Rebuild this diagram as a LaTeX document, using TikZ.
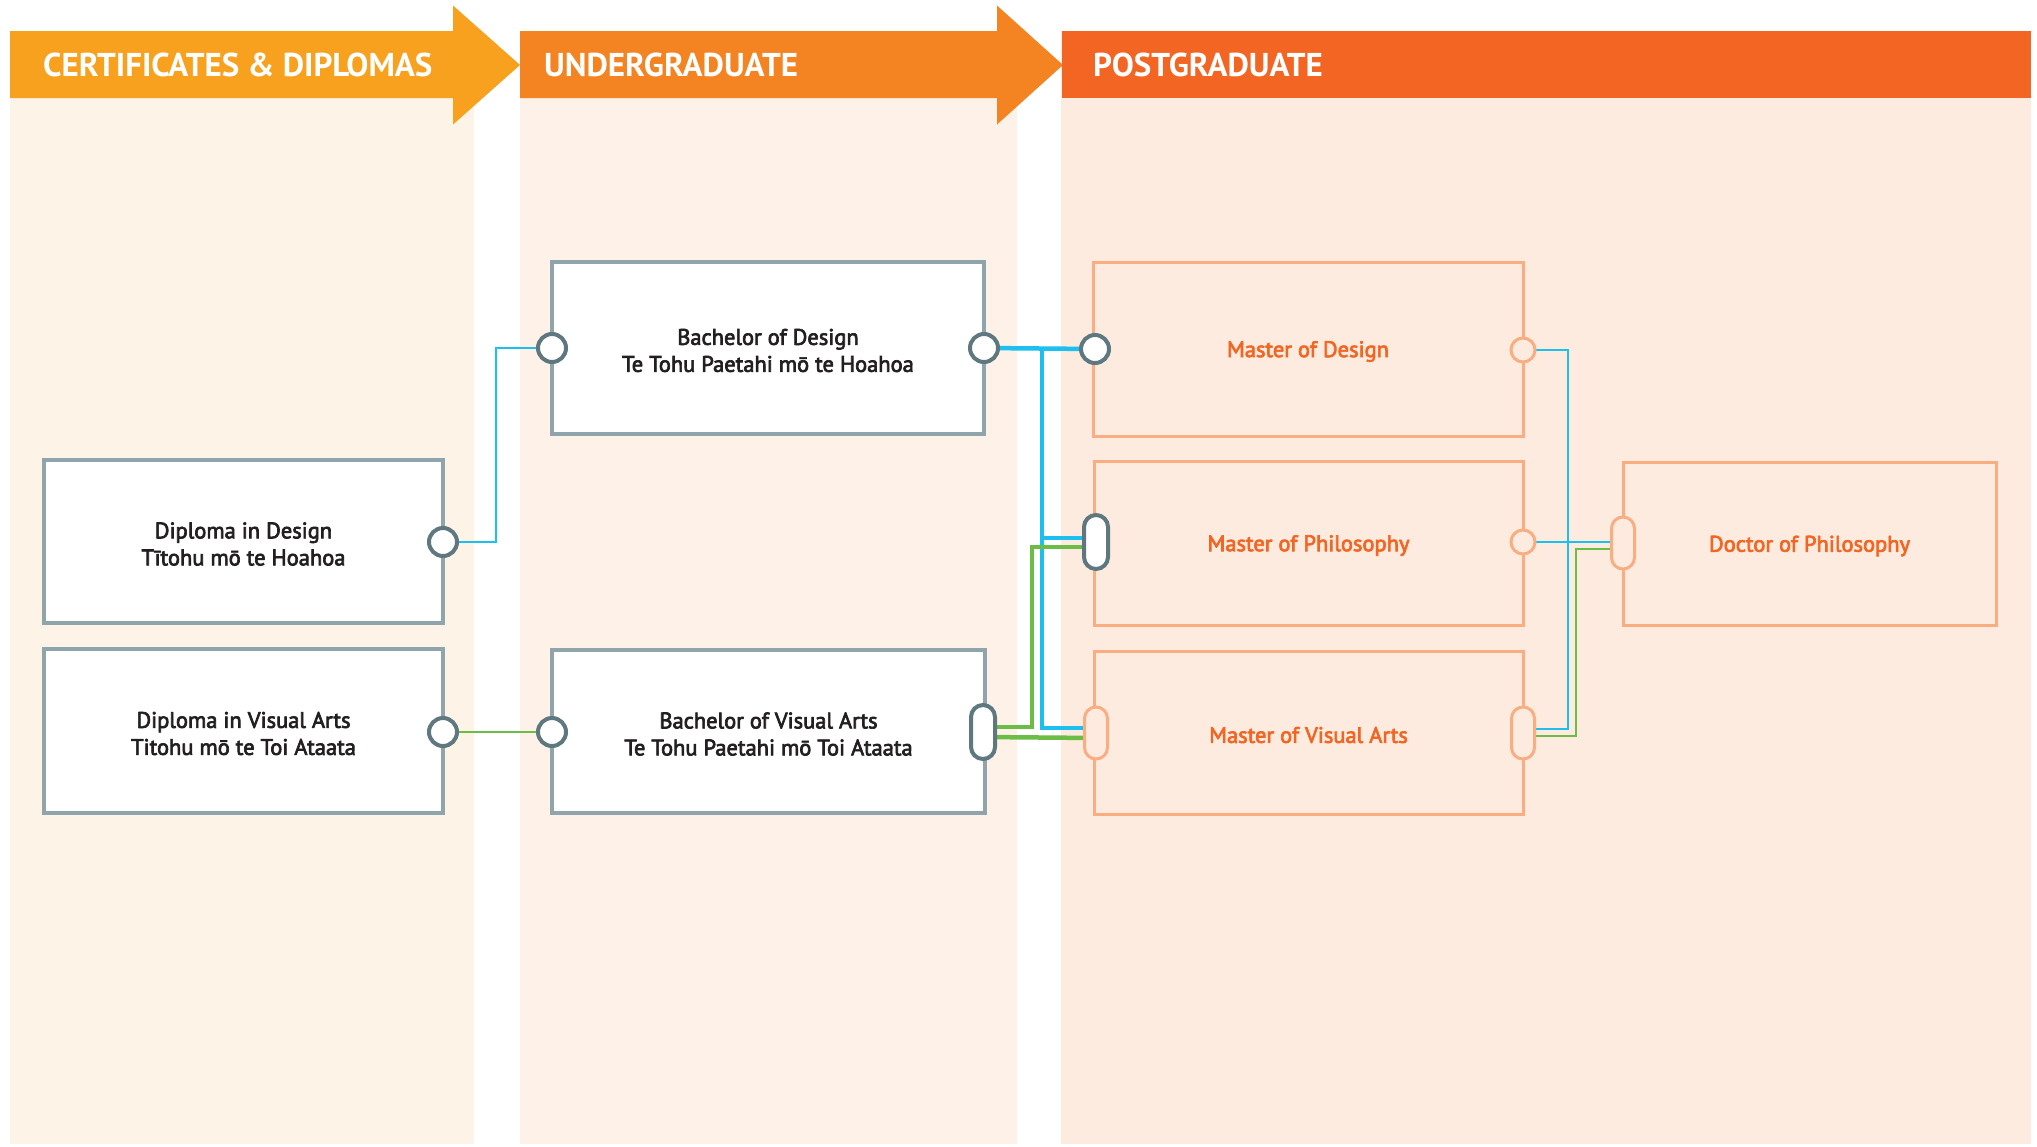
\documentclass[tikz,border=0pt]{standalone}
\usepackage{fontspec}
\setmainfont{PT Sans}
\newfontfamily\hdfont{PT Sans}
\newfontfamily\bxfont[FakeBold=3]{PT Sans}
\usetikzlibrary{calc}
\newcommand{\dnl}[1]{\raisebox{-2.5pt}[\height][\depth]{#1}}
\definecolor{hA}{HTML}{F7A11E}
\definecolor{hB}{HTML}{F48421}
\definecolor{hC}{HTML}{F26522}
\definecolor{bgA}{HTML}{FEF3E7}
\definecolor{bgB}{HTML}{FEF1E8}
\definecolor{bgC}{HTML}{FEEBE0}
\definecolor{gbord}{HTML}{8FA4AB}
\definecolor{gport}{HTML}{5F7880}
\definecolor{obord}{HTML}{F9AD81}
\definecolor{otext}{HTML}{F26522}
\definecolor{btext}{HTML}{231F20}
\definecolor{cblue}{HTML}{1DBFEF}
\definecolor{cgreen}{HTML}{6CBD45}
\tikzset{
  hdtext/.style={anchor=base west, inner sep=0pt, text=white, font=\hdfont\bfseries\fontsize{33}{33}\selectfont},
  gbox/.style={draw=gbord, line width=3.5pt, fill=white, inner sep=0pt, align=center, text=btext, font=\bxfont\fontsize{22.5}{27}\selectfont},
  obox/.style={draw=obord, line width=3pt, fill=bgC, inner sep=0pt, align=center, text=otext, font=\bxfont\fontsize{22.5}{27}\selectfont},
  gcirc/.style={circle, draw=gport, line width=4pt, fill=white, minimum size=28pt, inner sep=0pt},
  gpill/.style={rectangle, draw=gport, line width=4pt, fill=white, rounded corners=12pt, minimum width=24pt, minimum height=54pt, inner sep=0pt},
  ocirc/.style={circle, draw=obord, line width=3pt, fill=bgC, minimum size=24pt, inner sep=0pt},
  opill/.style={rectangle, draw=obord, line width=3pt, fill=bgC, rounded corners=11.5pt, minimum width=23pt, minimum height=52pt, inner sep=0pt},
  thinb/.style={draw=cblue, line width=2pt},
  thing/.style={draw=cgreen, line width=2pt},
  thickb/.style={draw=cblue, line width=4.5pt},
  thickg/.style={draw=cgreen, line width=4.5pt},
}
\begin{document}
\begin{tikzpicture}[x=1pt,y=-1pt]
\useasboundingbox (0,0) rectangle (2037,1146);
% column backgrounds
\fill[bgA] (10,31) rectangle (474,1144);
\fill[bgB] (520,31) rectangle (1017,1144);
\fill[bgC] (1061,31) rectangle (2031,1144);
% headers
\fill[hA] (10,31) -- (453,31) -- (453,5.5) -- (520,65) -- (453,124.5) -- (453,98) -- (10,98) -- cycle;
\fill[hB] (520,31) -- (997,31) -- (997,5.5) -- (1063,65) -- (997,124.5) -- (997,98) -- (520,98) -- cycle;
\fill[hC] (1062,31) rectangle (2031,98);
\node[hdtext] (h1) at (43,76) {CERTIFICATES \& DIPLOMAS};
\node[hdtext] (h2) at (544,76) {UNDERGRADUATE};
\node[hdtext] (h3) at (1093,76) {POSTGRADUATE};
% boxes
\node[gbox, minimum width=399pt, minimum height=163pt] (dipd) at (243.5,541.5) {\dnl{Diploma in Design}\\\dnl{Tītohu mō te Hoahoa}};
\node[gbox, minimum width=399pt, minimum height=164pt] (dipv) at (243.5,731) {\dnl{Diploma in Visual Arts}\\\dnl{Titohu mō te Toi Ataata}};
\node[gbox, minimum width=432pt, minimum height=172pt] (bd) at (768,348) {\dnl{Bachelor of Design}\\\dnl{Te Tohu Paetahi mō te Hoahoa}};
\node[gbox, minimum width=433pt, minimum height=163pt] (bva) at (768.5,731.5) {\dnl{Bachelor of Visual Arts}\\\dnl{Te Tohu Paetahi mō Toi Ataata}};
\node[obox, minimum width=430pt, minimum height=174pt] (md) at (1308,349) {\dnl{Master of Design}};
\node[obox, minimum width=429pt, minimum height=164pt] (mp) at (1308.5,543) {\dnl{Master of Philosophy}};
\node[obox, minimum width=429pt, minimum height=163pt] (mva) at (1308.5,732.5) {\dnl{Master of Visual Arts}};
\node[obox, minimum width=373pt, minimum height=163pt] (dp) at (1809.5,543.5) {\dnl{Doctor of Philosophy}};
% port positions
\coordinate (c1) at (443,542);
\coordinate (c2) at (443,732);
\coordinate (c3) at (552,348);
\coordinate (c4) at (984,348);
\coordinate (c5) at (552,732);
\coordinate (c6) at (983,732);
\coordinate (c7) at (1095,349);
\coordinate (c8) at (1523,350);
\coordinate (c9) at (1096,542);
\coordinate (c10) at (1523,542);
\coordinate (c11) at (1096,733);
\coordinate (c12) at (1523,733);
\coordinate (c13) at (1623,543);
% bends
\coordinate (k1) at (496,542);
\coordinate (k2) at (496,348);
\coordinate (j1) at (1042,349);
\coordinate (j2) at (1042,538);
\coordinate (j3) at (1042,728);
\coordinate (g1) at (1032,727);
\coordinate (g2) at (1032,547);
\coordinate (r1) at (1568,350);
\coordinate (r2) at (1568,729);
\coordinate (r3) at (1576,736);
\coordinate (r4) at (1576,549);
% connectors
\draw[thinb] (c1) -- (k1) -- (k2) -- (c3);
\draw[thing] (c2) -- (c5);
\draw[thickb] (c4) -- (c7);
\draw[thickb] (j1) -- (j3) -- (j3 -| c11);
\draw[thickb] (j2) -- (j2 -| c9);
\draw[thickg] (g1 -| c6) -- (g1) -- (g2) -- (g2 -| c9);
\draw[thickg] ($(c6)+(0,5)$) -- ($(c11)+(0,5)$);
\draw[thinb] (c8) -- (r1) -- (r2) -- (r2 -| c12);
\draw[thinb] (c10) -- (c10 -| c13);
\draw[thing] (r3 -| c12) -- (r3) -- (r4) -- (r4 -| c13);
% ports
\node[gcirc] (p1) at (c1) {};
\node[gcirc] (p2) at (c2) {};
\node[gcirc] (p3) at (c3) {};
\node[gcirc] (p4) at (c4) {};
\node[gcirc] (p5) at (c5) {};
\node[gpill] (p6) at (c6) {};
\node[gcirc] (p7) at (c7) {};
\node[ocirc] (p8) at (c8) {};
\node[gpill] (p9) at (c9) {};
\node[ocirc] (p10) at (c10) {};
\node[opill] (p11) at (c11) {};
\node[opill] (p12) at (c12) {};
\node[opill] (p13) at (c13) {};
\end{tikzpicture}
\end{document}
